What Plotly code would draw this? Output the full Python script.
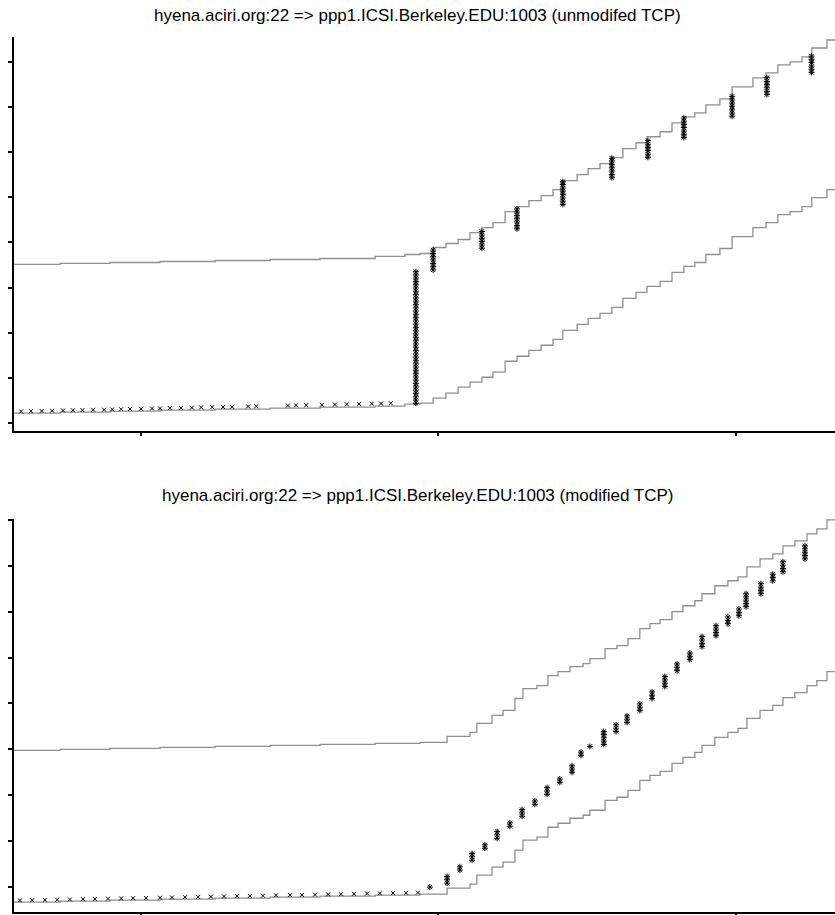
import plotly.graph_objects as go

# ---------------------------------------------------------------
# tcptrace-style time/sequence plots for one connection, before and
# after the TCP change.  Time in seconds, sequence offsets in kB.
# Grey steps: ACK line (lower) and advertised-window line (upper);
# black asterisks: data segments sent.
# ---------------------------------------------------------------

X_TICKS = [1, 2, 3]
Y_TICKS = [0, 10, 20, 30, 40, 50, 60, 70, 80]

TITLE_TOP = "hyena.aciri.org:22 => ppp1.ICSI.Berkeley.EDU:1003 (unmodifed TCP)"
TITLE_BOTTOM = "hyena.aciri.org:22 => ppp1.ICSI.Berkeley.EDU:1003 (modified TCP)"

# ---- unmodified TCP ----
top_step_t = [0.573, 0.728, 0.896, 1.064, 1.249, 1.434, 1.602, 1.787, 1.887, 1.938,
              1.982, 2.025, 2.066, 2.106, 2.146, 2.183, 2.224, 2.264, 2.304, 2.345,
              2.385, 2.418, 2.466, 2.503, 2.543, 2.583, 2.620, 2.664, 2.701, 2.745,
              2.785, 2.825, 2.862, 2.899, 2.946, 2.987, 3.057, 3.101, 3.141, 3.182,
              3.222, 3.255, 3.306, 3.333]
top_ack = [2.21, 2.43, 2.65, 2.87, 3.09, 3.31, 3.53, 3.75, 4.19, 4.42,
           5.52, 6.62, 7.95, 9.05, 10.15, 11.26, 13.69, 14.79, 16.11, 17.22,
           18.54, 20.53, 21.85, 23.18, 24.28, 25.61, 27.59, 28.92, 30.24, 31.35,
           33.33, 34.66, 35.54, 37.31, 38.63, 41.28, 43.27, 44.37, 46.14, 46.80,
           47.90, 49.89, 51.66, 51.66]
top_win = [35.10, 35.32, 35.54, 35.76, 35.98, 36.20, 36.42, 36.87, 37.31, 37.53,
           38.85, 39.74, 40.62, 42.16, 43.27, 44.37, 46.80, 47.90, 49.23, 50.33,
           51.66, 53.64, 54.97, 56.29, 57.40, 58.72, 60.71, 62.03, 63.36, 64.46,
           66.45, 67.77, 68.65, 70.42, 71.74, 74.39, 76.38, 77.48, 79.25, 79.91,
           81.02, 83.00, 84.77, 84.77]

top_seg_t = [0.597, 0.630, 0.666, 0.701, 0.738, 0.771, 0.803, 0.839, 0.876, 0.903,
             0.933, 0.963, 1.000, 1.037, 1.064, 1.097, 1.134, 1.171, 1.202, 1.239,
             1.276, 1.306, 1.360, 1.387, 1.494, 1.521, 1.555, 1.608, 1.652, 1.692,
             1.733, 1.776, 1.807, 1.840]
top_seg = [2.58, 2.63, 2.67, 2.72, 2.78, 2.83, 2.87, 2.94, 2.98, 3.02,
           3.07, 3.11, 3.16, 3.22, 3.25, 3.31, 3.36, 3.42, 3.47, 3.51,
           3.55, 3.60, 3.69, 3.73, 3.89, 3.93, 3.97, 4.04, 4.11, 4.17,
           4.24, 4.28, 4.33, 4.39]

top_burst_t = [1.924, 1.982, 2.146, 2.264, 2.418, 2.583, 2.704, 2.825, 2.987, 3.104, 3.254]
top_burst_seq = [
    [4.4, 5.1, 5.8, 6.6, 7.3, 8.0, 8.8, 9.5, 10.2, 10.9, 11.7, 12.4, 13.1, 13.9,
     14.6, 15.3, 16.0, 16.8, 17.5, 18.2, 19.0, 19.7, 20.4, 21.1, 21.9, 22.6, 23.3,
     24.1, 24.8, 25.5, 26.2, 27.0, 27.7, 28.4, 29.2, 29.9, 30.6, 31.3, 32.1, 32.8, 33.5],
    [33.9, 34.6, 35.3, 36.1, 36.8, 37.5, 38.3],
    [38.7, 39.4, 40.2, 40.9, 41.6, 42.4],
    [43.0, 43.7, 44.5, 45.2, 45.9, 46.7, 47.4],
    [48.4, 49.1, 49.8, 50.6, 51.3, 52.0, 52.8, 53.4],
    [54.3, 55.0, 55.8, 56.5, 57.2, 58.0, 58.6],
    [58.8, 59.5, 60.3, 61.0, 61.7, 62.5],
    [63.2, 63.9, 64.6, 65.4, 66.1, 66.8, 67.5],
    [67.9, 68.6, 69.3, 70.1, 70.8, 71.5, 72.3],
    [72.7, 73.4, 74.2, 74.9, 75.6, 76.4],
    [77.6, 78.3, 79.0, 79.8, 80.5, 81.2],
]

# ---- modified TCP ----
bot_step_t = [0.573, 0.728, 0.896, 1.064, 1.249, 1.434, 1.602, 1.787, 1.938, 2.029,
              2.106, 2.129, 2.180, 2.217, 2.257, 2.284, 2.331, 2.368, 2.402, 2.442,
              2.486, 2.509, 2.560, 2.600, 2.637, 2.677, 2.711, 2.745, 2.785, 2.822,
              2.862, 2.886, 2.929, 2.973, 3.007, 3.037, 3.081, 3.124, 3.158, 3.198,
              3.239, 3.272, 3.306, 3.333]
bot_ack = [-3.26, -3.04, -2.83, -2.61, -2.39, -2.17, -1.96, -1.74, -1.52, -0.22,
           0.65, 2.61, 4.35, 5.43, 8.04, 10.22, 10.87, 13.04, 13.91, 15.00,
           15.65, 16.74, 18.91, 19.57, 21.09, 23.26, 24.35, 25.22, 26.96, 28.26,
           29.35, 30.87, 32.61, 33.70, 34.57, 36.74, 38.48, 39.57, 41.30, 42.39,
           43.91, 45.00, 46.96, 46.96]
bot_win = [29.78, 30.00, 30.22, 30.43, 30.65, 30.87, 31.09, 31.30, 31.52, 32.83,
           33.70, 35.65, 37.39, 38.48, 41.09, 43.26, 43.91, 46.09, 46.96, 48.04,
           48.70, 49.78, 51.96, 52.61, 54.13, 56.30, 57.39, 58.26, 60.00, 61.30,
           62.39, 63.91, 65.65, 66.74, 67.61, 69.78, 71.52, 72.61, 74.35, 75.43,
           76.96, 78.04, 80.00, 80.00]

bot_seg_t = [0.593, 0.634, 0.677, 0.718, 0.761, 0.805, 0.845, 0.889, 0.933, 0.973,
             1.017, 1.064, 1.104, 1.148, 1.192, 1.235, 1.279, 1.323, 1.366, 1.410,
             1.454, 1.501, 1.541, 1.585, 1.629, 1.672, 1.716, 1.760, 1.803, 1.847,
             1.891, 1.931]
bot_seg = [-2.91, -2.85, -2.80, -2.76, -2.70, -2.63, -2.59, -2.52, -2.48, -2.43,
           -2.37, -2.30, -2.26, -2.20, -2.15, -2.09, -2.04, -1.98, -1.93, -1.87,
           -1.80, -1.76, -1.70, -1.65, -1.59, -1.54, -1.48, -1.41, -1.37, -1.30,
           -1.26, -1.20]

bot_burst_t = [1.971, 2.029, 2.072, 2.113, 2.156, 2.197, 2.240, 2.281, 2.324, 2.365,
               2.408, 2.449, 2.479, 2.509, 2.556, 2.597, 2.634, 2.677, 2.718, 2.761,
               2.802, 2.845, 2.886, 2.933, 2.973, 3.010, 3.034, 3.084, 3.124, 3.158, 3.232]
bot_burst_seq = [
    [0.00],
    [0.87, 1.59, 2.30],
    [3.70, 4.41],
    [5.87, 6.59, 7.30],
    [8.48, 9.20],
    [10.65, 11.37, 12.09],
    [13.26, 13.98],
    [15.43, 16.15, 16.87],
    [18.04, 18.76],
    [20.22, 20.93, 21.65],
    [22.83, 23.54],
    [25.00, 25.72, 26.43],
    [28.70, 29.41],
    [30.65],
    [31.09, 31.80, 32.52, 33.24, 33.91],
    [33.91, 34.63, 35.35],
    [35.87, 36.59, 37.30],
    [38.48, 39.20, 39.91],
    [41.09, 41.80, 42.52],
    [43.70, 44.41, 45.13, 45.87],
    [47.17, 47.89, 48.61],
    [49.57, 50.28, 51.00],
    [52.39, 53.11, 53.83, 54.57],
    [54.78, 55.50, 56.22, 56.96],
    [57.39, 58.11, 58.83],
    [59.13, 59.85, 60.57],
    [61.09, 61.80, 62.52, 63.24, 63.91],
    [63.91, 64.63, 65.35, 66.09],
    [66.74, 67.46, 68.17],
    [68.70, 69.41, 70.13, 70.87],
    [71.52, 72.24, 72.96, 73.70, 74.35],
]


def flatten(times, groups):
    xs, ys = [], []
    for t, g in zip(times, groups):
        for s in g:
            xs.append(t)
            ys.append(s)
    return xs, ys


LINE_GREY = "#8f8f8f"
W, H = 835, 915
M_L, M_R, M_T, M_B = 14, 0, 37, 1
plot_h = H - M_T - M_B


def frac(py):
    return (H - M_B - py) / plot_h


fig = go.Figure()

panels = [
    ("x", "y", top_step_t, top_ack, top_win, top_seg_t, top_seg, top_burst_t, top_burst_seq),
    ("x2", "y2", bot_step_t, bot_ack, bot_win, bot_seg_t, bot_seg, bot_burst_t, bot_burst_seq),
]
for xa, ya, st, ack, win, sg_t, sg, b_t, b_seq in panels:
    for lvl in (ack, win):
        fig.add_trace(go.Scatter(
            x=st, y=lvl, xaxis=xa, yaxis=ya, mode="lines",
            line=dict(color=LINE_GREY, width=1.3, shape="hv"),
            hoverinfo="skip", showlegend=False))
    fig.add_trace(go.Scatter(
        x=sg_t, y=sg, xaxis=xa, yaxis=ya, mode="markers",
        marker=dict(symbol="x-thin-open", size=4, color="black",
                    line=dict(color="black", width=1)),
        showlegend=False))
    bx, by = flatten(b_t, b_seq)
    fig.add_trace(go.Scatter(
        x=bx, y=by, xaxis=xa, yaxis=ya, mode="markers",
        marker=dict(symbol="asterisk-open", size=5, color="black",
                    line=dict(color="black", width=1)),
        showlegend=False))

axis_style = dict(showline=True, linecolor="black", linewidth=2,
                  ticks="outside", tickcolor="black", tickwidth=2,
                  showticklabels=False, showgrid=False, zeroline=False,
                  fixedrange=True)

top_dom = [frac(432), 1.0]
bot_dom = [0.0, frac(520)]

fig.update_layout(
    width=W, height=H,
    margin=dict(l=M_L, r=M_R, t=M_T, b=M_B),
    paper_bgcolor="white", plot_bgcolor="white",
    font=dict(family="Liberation Sans, Arial, Helvetica, sans-serif", color="black"),
    xaxis=dict(range=[0.573, 3.333], tickvals=X_TICKS, ticklen=3, anchor="y", **axis_style),
    yaxis=dict(range=[-1.77, 85.43], tickvals=Y_TICKS, ticklen=4, domain=top_dom,
               anchor="x", **axis_style),
    xaxis2=dict(range=[0.573, 3.333], tickvals=X_TICKS, ticklen=3, anchor="y2", **axis_style),
    yaxis2=dict(range=[-5.43, 80.22], tickvals=Y_TICKS, ticklen=4, domain=bot_dom,
                anchor="x2", **axis_style),
    annotations=[
        dict(text=TITLE_TOP, xref="paper", yref="paper", x=0.4915, y=frac(15),
             xanchor="center", yanchor="middle", showarrow=False,
             font=dict(size=17)),
        dict(text=TITLE_BOTTOM, xref="paper", yref="paper", x=0.4915, y=frac(497),
             xanchor="center", yanchor="middle", showarrow=False,
             font=dict(size=17)),
    ],
)

fig.write_html("out.html")
